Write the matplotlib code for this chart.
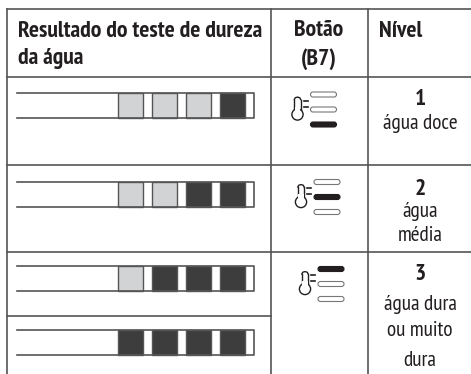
import matplotlib
matplotlib.use('Agg')
import matplotlib.pyplot as plt
from matplotlib import font_manager as fm
from matplotlib.patches import Rectangle, FancyBboxPatch, Circle

# condensed face if the machine has one, otherwise a smaller Liberation Sans
installed = {f.name for f in fm.fontManager.ttflist}
BOLD_SIZE, BODY_SIZE = 11.5, 11.5
for name, bold, body in [('PT Sans Narrow', 17, 15.3), ('Fira Sans Condensed', 15, 14), ('Asap Condensed', 15, 14)]:
    if name in installed:
        plt.rcParams['font.family'] = [name, 'Liberation Sans', 'DejaVu Sans']
        BOLD_SIZE, BODY_SIZE = bold, body
        break
else:
    plt.rcParams['font.family'] = ['Liberation Sans', 'DejaVu Sans']

# 0 = light square, 1 = dark square
strips = [
    [0, 0, 0, 1],
    [0, 0, 1, 1],
    [0, 1, 1, 1],
    [1, 1, 1, 1],
]
# which of the three button bars is lit (0 = top)
button_active = [2, 1, 0]
headers = ['Resultado do teste de dureza\nda água', 'Botão\n(B7)', 'Nível']
level_numbers = ['1', '2', '3']
level_texts = [['água doce'], ['água', 'média'], ['água dura', 'ou muito', 'dura']]

LINE = '#555555'
LIGHT = '#d1d3d4'
DARK = '#3d3d3d'
TEXT = '#231f20'

fig = plt.figure(figsize=(4.71, 3.74), dpi=100)
ax = fig.add_axes([0, 0, 1, 1])
ax.set_xlim(0, 471)
ax.set_ylim(374, 0)
ax.axis('off')

# table grid
ax.plot([7, 471], [9, 9], color=LINE, lw=1.2)
ax.plot([7, 471], [77, 77], color=LINE, lw=1.2)
ax.plot([7, 471], [164.5, 164.5], color=LINE, lw=1.2)
ax.plot([7, 471], [252, 252], color=LINE, lw=1.2)
ax.plot([7, 271], [316, 316], color=LINE, lw=1.2)
ax.plot([7, 7], [9, 374], color=LINE, lw=1.2)
ax.plot([271, 271], [9, 374], color=LINE, lw=1.2)
ax.plot([367.5, 367.5], [9, 374], color=LINE, lw=1.2)

# headers
ax.text(18, 45, headers[0], fontsize=BOLD_SIZE, fontweight='bold', color=TEXT,
        va='center', ha='left', linespacing=1.4)
ax.text(319, 45, headers[1], fontsize=BOLD_SIZE, fontweight='bold', color=TEXT,
        va='center', ha='center', linespacing=1.4)
ax.text(379, 31, headers[2], fontsize=BOLD_SIZE, fontweight='bold', color=TEXT,
        va='center', ha='left')

# test strips
strip_tops = [93, 182, 265.5, 329.5]
for top, strip in zip(strip_tops, strips):
    h = 25
    ax.plot([17, 254, 254, 17], [top, top, top + h, top + h], color=LINE, lw=1.2)
    for i, state in enumerate(strip):
        x = 118 + i * 34
        ax.add_patch(Rectangle((x, top), 25, h, facecolor=DARK if state else LIGHT,
                               edgecolor=LINE, lw=1.0))


def draw_button(x, y_top, active):
    # thermometer
    tx = x - 13
    ty = y_top
    ax.plot([tx - 3.2, tx - 3.2], [ty + 5, ty + 15], color=TEXT, lw=1.0)
    ax.plot([tx + 3.2, tx + 3.2], [ty + 5, ty + 15], color=TEXT, lw=1.0)
    ax.plot([tx - 3.2, tx - 2.2, tx, tx + 2.2, tx + 3.2],
            [ty + 5, ty + 3.2, ty + 2.6, ty + 3.2, ty + 5], color=TEXT, lw=1.0)
    ax.add_patch(Circle((tx, ty + 20), 5.6, facecolor='white', edgecolor=TEXT, lw=1.0, zorder=3))
    ax.add_patch(Rectangle((tx - 2.6, ty + 12), 5.2, 5.5, facecolor='white', edgecolor='none', zorder=4))
    for k in range(2):
        ax.plot([tx + 6, tx + 10], [ty + 6 + k * 6, ty + 6 + k * 6], color=TEXT, lw=1.2)
    # three bars
    for k in range(3):
        yc = y_top + k * 15
        on = k == active
        ax.add_patch(FancyBboxPatch((x, yc - 2.5), 26, 5, boxstyle='round,pad=0,rounding_size=2.5',
                                    facecolor=TEXT if on else 'white',
                                    edgecolor=TEXT if on else '#777777', lw=0.8, zorder=3))


button_x = [310.5, 314, 318]
button_top = [94.5, 182, 269]
for x, y, a in zip(button_x, button_top, button_active):
    draw_button(x, y, a)

# level column
number_y = [99, 189, 274]
line_y = [[123], [211, 235.5], [304, 331, 360]]
for num, ny, txt, ys in zip(level_numbers, number_y, level_texts, line_y):
    ax.text(420, ny, num, fontsize=BOLD_SIZE, fontweight='bold', color=TEXT, ha='center', va='center')
    for t, y in zip(txt, ys):
        ax.text(420, y, t, fontsize=BODY_SIZE, color=TEXT, ha='center', va='center')

fig.savefig('out.png', dpi=100)
